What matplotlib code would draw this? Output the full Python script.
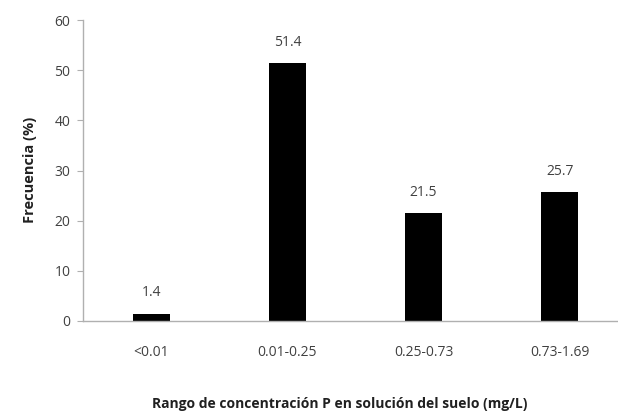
import matplotlib
matplotlib.use("Agg")
import matplotlib.pyplot as plt

categories = ["<0.01", "0.01-0.25", "0.25-0.73", "0.73-1.69"]
values = [1.4, 51.4, 21.5, 25.7]
yticks = [0, 10, 20, 30, 40, 50, 60]

plt.rcParams['font.family'] = ['Open Sans', 'DejaVu Sans']

W, H = 618, 417
fig = plt.figure(figsize=(W/100, H/100), dpi=100)
left, right = 83, 628
bottom, top = 321, 20
ax = fig.add_axes([left/W, 1 - bottom/H, (right-left)/W, (bottom-top)/H])

x = list(range(len(categories)))
bars = ax.bar(x, values, width=0.27, color="black")
ax.set_xlim(-0.5, 3.5)
ax.set_ylim(0, 60)
ax.set_yticks(yticks)
ax.set_xticks(x)
ax.set_xticklabels(categories)
for xi, v in zip(x, values):
    ax.text(xi, v + 4.2, f"{v}", ha="center", va="center", fontsize=10, color="#404040")

for s in ["top", "right"]:
    ax.spines[s].set_visible(False)
for s in ["left", "bottom"]:
    ax.spines[s].set_color("#b0b0b0")
    ax.spines[s].set_linewidth(1)
ax.tick_params(axis="y", length=4, color="#b0b0b0", labelsize=10, labelcolor="#404040", pad=5)
ax.tick_params(axis="x", length=0, labelsize=10, labelcolor="#404040", pad=17)

fig.text(30/W, 1 - 170/H, "Frecuencia (%)", rotation=90, ha="center", va="center",
         fontsize=10.5, fontweight="bold", color="#202020")
fig.text(340/W, 1 - 404/H, "Rango de concentración P en solución del suelo (mg/L)",
         ha="center", va="center", fontsize=10, fontweight="bold", color="#202020")

fig.savefig("out.png", dpi=100)
